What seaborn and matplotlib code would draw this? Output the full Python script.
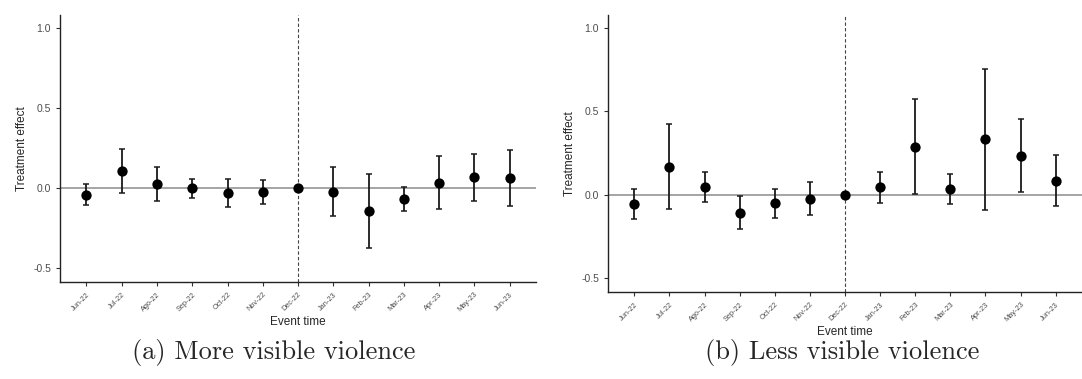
import pandas as pd
import seaborn as sns
import matplotlib.pyplot as plt
import numpy as np

months = ["Jun-22", "Jul-22", "Ago-22", "Sep-22", "Oct-22", "Nov-22", "Dec-22",
          "Jan-23", "Feb-23", "Mar-23", "Apr-23", "May-23", "Jun-23"]

# (a) More visible violence
est_a = [-0.044, 0.104, 0.027, -0.002, -0.031, -0.025, 0.0,
         -0.023, -0.145, -0.069, 0.033, 0.069, 0.062]
lo_a = [-0.108, -0.031, -0.079, -0.064, -0.120, -0.096, np.nan,
        -0.172, -0.374, -0.141, -0.131, -0.077, -0.112]
hi_a = [0.025, 0.243, 0.131, 0.056, 0.058, 0.048, np.nan,
        0.129, 0.087, 0.006, 0.201, 0.216, 0.237]

# (b) Less visible violence
est_b = [-0.056, 0.169, 0.048, -0.108, -0.052, -0.024, 0.0,
         0.044, 0.289, 0.036, 0.333, 0.235, 0.084]
lo_b = [-0.147, -0.084, -0.042, -0.209, -0.139, -0.120, np.nan,
        -0.050, 0.004, -0.054, -0.092, 0.016, -0.070]
hi_b = [0.034, 0.424, 0.139, -0.006, 0.034, 0.074, np.nan,
        0.137, 0.576, 0.127, 0.757, 0.454, 0.237]

captions = ["(a) More visible violence", "(b) Less visible violence"]

sns.set_style("ticks")
plt.rcParams["font.family"] = ["Liberation Sans", "DejaVu Sans"]

fig = plt.figure(figsize=(10.82, 3.79), dpi=100)
ax_a = fig.add_axes([0.0555, 0.256, 0.44, 0.7045])
ax_b = fig.add_axes([0.5619, 0.2296, 0.4381, 0.7308])

panels = [(ax_a, est_a, lo_a, hi_a), (ax_b, est_b, lo_b, hi_b)]

for (ax, est, lo, hi), cap in zip(panels, captions):
    df = pd.DataFrame({"pos": np.arange(len(months)), "month": months,
                       "est": est, "lo": lo, "hi": hi})
    ax.axhline(0, color="#8c8c8c", lw=1.1, zorder=1)
    ax.axvline(6, color="#444444", lw=0.8, ls=(0, (3, 2)), zorder=1)
    ci = df.dropna()
    ax.errorbar(ci["pos"], ci["est"],
                yerr=[ci["est"] - ci["lo"], ci["hi"] - ci["est"]],
                fmt="none", ecolor="#1a1a1a", elinewidth=1.3, capsize=2.5,
                capthick=1.1, zorder=2)
    sns.scatterplot(data=df, x="pos", y="est", ax=ax, color="black", s=55,
                    edgecolor="black", linewidth=0, zorder=3)
    ax.set_xlim(-0.75, 12.75)
    ax.set_ylim(-0.585, 1.08)
    ax.set_xticks(df["pos"])
    ax.set_xticklabels(months, rotation=45, ha="right", rotation_mode="anchor",
                       fontsize=5.3, color="#4d4d4d")
    ax.set_yticks([-0.5, 0.0, 0.5, 1.0])
    ax.set_yticklabels(["-0.5", "0.0", "0.5", "1.0"], fontsize=7.5, color="#4d4d4d")
    ax.tick_params(length=3, width=0.8, color="#333333")
    ax.set_xlabel("Event time", fontsize=8.5, labelpad=2)
    ax.set_ylabel("Treatment effect", fontsize=8.5, labelpad=4)
    sns.despine(ax=ax)
    for s in ["left", "bottom"]:
        ax.spines[s].set_linewidth(1.0)
        ax.spines[s].set_color("#222222")

fig.text(0.253, 0.07, captions[0], ha="center", va="center",
         fontsize=19, family="cmr10")
fig.text(0.778, 0.07, captions[1], ha="center", va="center",
         fontsize=19, family="cmr10")

fig.savefig("out.png", dpi=100)
